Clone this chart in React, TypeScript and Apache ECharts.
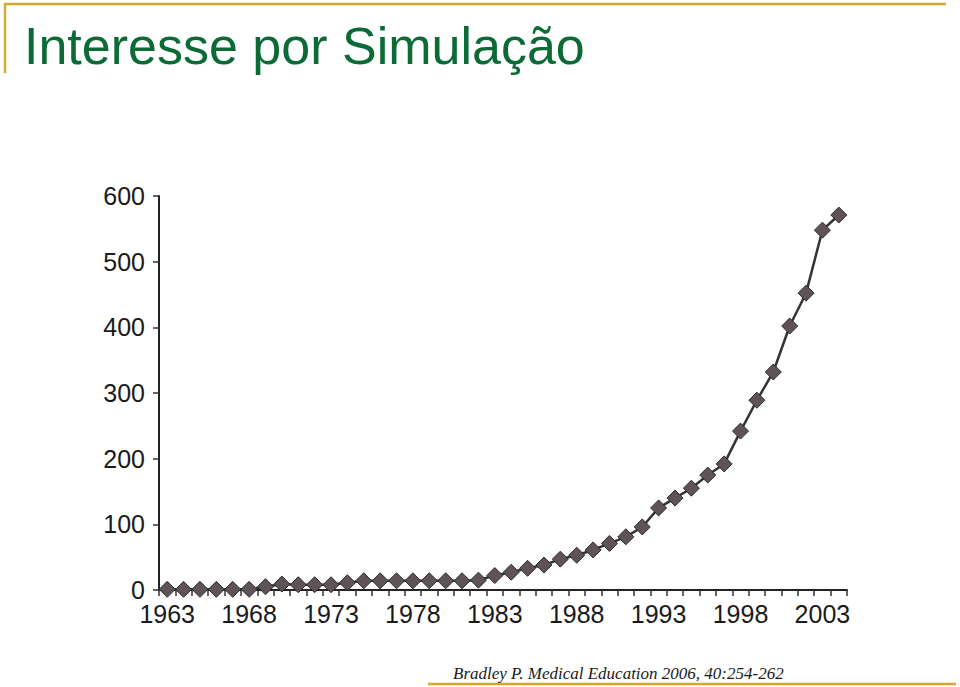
import React, { useEffect, useRef } from "react";
import * as echarts from "echarts";

const years: string[] = [
  "1963","1964","1965","1966","1967","1968","1969","1970","1971","1972",
  "1973","1974","1975","1976","1977","1978","1979","1980","1981","1982",
  "1983","1984","1985","1986","1987","1988","1989","1990","1991","1992",
  "1993","1994","1995","1996","1997","1998","1999","2000","2001","2002",
  "2003","2004",
];
const counts: number[] = [
  1, 1, 1, 1, 1, 1, 5, 9, 8, 8,
  8, 11, 14, 14, 14, 14, 14, 14, 14, 15,
  22, 27, 33, 38, 47, 53, 61, 71, 81, 96,
  125, 140, 155, 175, 192, 242, 289, 332, 402, 452,
  548, 571,
];
const yTicks: number[] = [0, 100, 200, 300, 400, 500, 600];
const titleText = "Interesse por Simulação";
const citationText = "Bradley P. Medical Education 2006, 40:254-262";

export default function App() {
  const ref = useRef<HTMLDivElement>(null);
  useEffect(() => {
    if (!ref.current) return;
    const chart = echarts.init(ref.current, null, { renderer: "svg" });
    const gold = "#d6a92c";
    chart.setOption({
      animation: false,
      backgroundColor: "#ffffff",
      grid: { left: 159, right: 113, top: 196, bottom: 97, containLabel: false },
      xAxis: {
        type: "category",
        data: years,
        boundaryGap: true,
        axisLine: { show: true, lineStyle: { color: "#222", width: 2 } },
        axisTick: {
          show: true,
          interval: 0,
          length: 6,
          lineStyle: { color: "#333", width: 1.5 },
        },
        axisLabel: {
          interval: 4,
          margin: 11,
          color: "#1a1a1a",
          fontSize: 25,
          fontFamily: "Liberation Sans, Arial, sans-serif",
        },
        splitLine: { show: false },
      },
      yAxis: {
        type: "value",
        min: yTicks[0],
        max: yTicks[yTicks.length - 1],
        interval: 100,
        axisLine: { show: true, lineStyle: { color: "#222", width: 2 } },
        axisTick: { show: true, length: 6, lineStyle: { color: "#333", width: 1.5 } },
        axisLabel: {
          margin: 14,
          color: "#1a1a1a",
          fontSize: 25,
          fontFamily: "Liberation Sans, Arial, sans-serif",
        },
        splitLine: { show: false },
      },
      series: [
        {
          type: "line",
          data: counts,
          symbol: "diamond",
          symbolSize: 16,
          showSymbol: true,
          showAllSymbol: true,
          itemStyle: { color: "#5d5358", borderColor: "#2e2a2c", borderWidth: 1 },
          lineStyle: { color: "#333", width: 2.5 },
          z: 3,
        },
      ],
      graphic: [
        { type: "line", shape: { x1: 4, y1: 4, x2: 946, y2: 4 }, style: { stroke: gold, lineWidth: 2.5 } },
        { type: "line", shape: { x1: 5, y1: 4, x2: 5, y2: 73 }, style: { stroke: gold, lineWidth: 2.5 } },
        { type: "line", shape: { x1: 428, y1: 684, x2: 956, y2: 684 }, style: { stroke: gold, lineWidth: 2.5 } },
        {
          type: "text",
          left: 24,
          top: 20,
          style: {
            text: titleText,
            fill: "#0b6a35",
            font: "52px 'Liberation Sans', Arial, sans-serif",
          },
        },
        {
          type: "text",
          left: 453,
          top: 665,
          style: {
            text: citationText,
            fill: "#1a1a1a",
            font: "italic 17px 'Liberation Serif', 'Times New Roman', serif",
          },
        },
      ],
    });
    return () => chart.dispose();
  }, []);
  return (
    <div
      ref={ref}
      style={{ position: "fixed", left: 0, top: 0, width: 960, height: 687 }}
    />
  );
}
